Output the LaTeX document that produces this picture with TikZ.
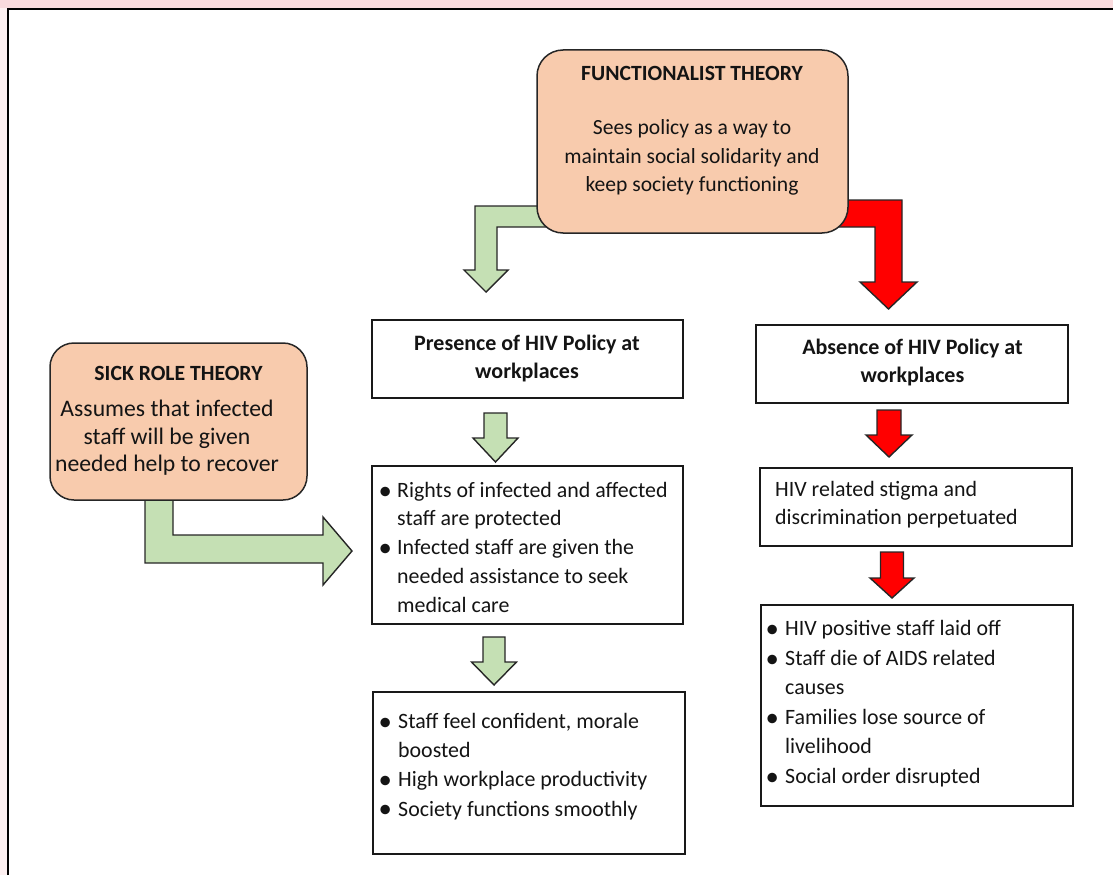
\documentclass[tikz,border=0pt]{standalone}
\usepackage{fontspec}
\setmainfont{Carlito}
\usetikzlibrary{calc}
\definecolor{peach}{HTML}{F8CBAD}
\definecolor{lgreen}{HTML}{C5E0B4}
\definecolor{pinkbg}{HTML}{F9DADD}
\newcommand\fs[2]{\fontsize{#1}{#2}\selectfont}
\newcommand\bigbul{\raisebox{-1.8pt}{\scalebox{1.22}{\textbullet}}}
\newcommand\bi{\makebox[24pt][c]{\bigbul}}
\newcommand\bj{\makebox[26pt][c]{\bigbul}}
\newcommand\ind{\hspace*{24pt}}
\newcommand\jnd{\hspace*{26pt}}
\newcommand{\blockdown}[7]{%
  \draw[#1] ({#2-#6},#3) -- ({#2+#6},#3) -- ({#2+#6},#4) -- ({#2+#7},#4) -- (#2,#5) -- ({#2-#7},#4) -- ({#2-#6},#4) -- cycle;}
\begin{document}
\begin{tikzpicture}[x=1pt,y=-1pt,
  box/.style={draw=black!90, line width=1.5pt, fill=white, inner sep=0pt},
  theory/.style={draw=black!85, line width=1.5pt, fill=peach, rounded corners=26pt, inner sep=0pt},
  txt/.style={inner sep=0pt, text=black!92},
  garrow/.style={draw=black!85, line width=1.4pt, fill=lgreen, line join=miter},
  rarrow/.style={draw=black!85, line width=1.4pt, fill=red, line join=miter}]
\useasboundingbox (0,0) rectangle (1113,875);
\fill[pinkbg] (0,0) rectangle (1113,8);
\fill[pinkbg!40] (0,8) rectangle (8,875);
\draw[line width=2.2pt] (8,875) -- (8,9) -- (1113,9);

% block arrows (drawn first, boxes cover their roots)
\draw[garrow] (560,206) -- (475,206) -- (475,270) -- (464,270) -- (486,292) -- (508,270) -- (497,270) -- (497,227) -- (560,227) -- cycle;
\draw[rarrow] (820,200) -- (902,200) -- (902,282) -- (917,282) -- (888.5,309) -- (860,282) -- (875,282) -- (875,227) -- (820,227) -- cycle;
\draw[garrow] (145,480) -- (145,563) -- (323,563) -- (323,585) -- (352,551) -- (323,517) -- (323,535) -- (173,535) -- (173,480) -- cycle;
\blockdown{garrow}{495.5}{413}{438}{462}{11.5}{22.5}
\blockdown{garrow}{494}{637}{662}{685}{11}{22.5}
\blockdown{rarrow}{889}{410}{435}{457}{12}{23}
\blockdown{rarrow}{892}{552}{578}{598}{11.5}{22}

% theory boxes
\node[theory, minimum width=311pt, minimum height=183pt] (func) at (692.5,141.5) {};
\node[txt, anchor=base, font=\fs{21.7}{28.7}\bfseries] (functitle) at (692,80) {FUNCTIONALIST THEORY};
\node[txt, anchor=north, align=center, font=\fs{21.6}{28.7}] (funcbody) at (692,114.2) {\strut Sees policy as a way to\\ maintain social solidarity and\\ keep society functioning};

\node[theory, minimum width=257pt, minimum height=157pt, rounded corners=24pt] (sick) at (178.5,421.5) {};
\node[txt, anchor=base, font=\fs{21.7}{27.5}\bfseries] (sicktitle) at (178.5,380) {SICK ROLE THEORY};
\node[txt, anchor=north, align=center, font=\fs{23.7}{27.5}] (sickbody) at (167,397.45) {\strut Assumes that infected\\ staff will be given\\ needed help to recover};

% policy boxes
\node[box, minimum width=311pt, minimum height=78pt] (presence) at (527.5,359) {};
\node[txt, anchor=north, align=center, font=\fs{22}{28}\bfseries] (presencetext) at (527,330.4) {\strut Presence of HIV Policy at\\ workplaces};

\node[box, minimum width=312pt, minimum height=78pt] (absence) at (912,364) {};
\node[txt, anchor=north, align=center, font=\fs{22}{28}\bfseries] (absencetext) at (912.5,334.4) {\strut Absence of HIV Policy at\\ workplaces};

% left column
\node[box, minimum width=311pt, minimum height=158pt] (rights) at (527.5,545) {};
\node[txt, anchor=north west, align=left, font=\fs{21.9}{28.75}] (rightstext) at (373,476.9) {\strut\bi Rights of infected and affected\\ \ind staff are protected\\ \bi Infected staff are given the\\ \ind needed assistance to seek\\ \ind medical care};

\node[box, minimum width=312pt, minimum height=162pt] (good) at (529,773) {};
\node[txt, anchor=north west, align=left, font=\fs{21.9}{29.3}] (goodtext) at (372,707.5) {\strut\bj Staff feel confident, morale\\ \jnd boosted\\ \bj High workplace productivity\\ \bj Society functions smoothly};

% right column
\node[box, minimum width=312pt, minimum height=78pt] (stigma) at (916,507) {};
\node[txt, anchor=north west, align=left, font=\fs{21.9}{28}] (stigmatext) at (775,476.4) {\strut HIV related stigma and\\ discrimination perpetuated};

\node[box, minimum width=312pt, minimum height=201pt] (bad) at (917,705.5) {};
\node[txt, anchor=north west, align=left, font=\fs{21.9}{29.5}] (badtext) at (759,615.05) {\strut\bj HIV positive staff laid off\\ \bj Staff die of AIDS related\\ \jnd causes\\ \bj Families lose source of\\ \jnd livelihood\\ \bj Social order disrupted};
\end{tikzpicture}
\end{document}
